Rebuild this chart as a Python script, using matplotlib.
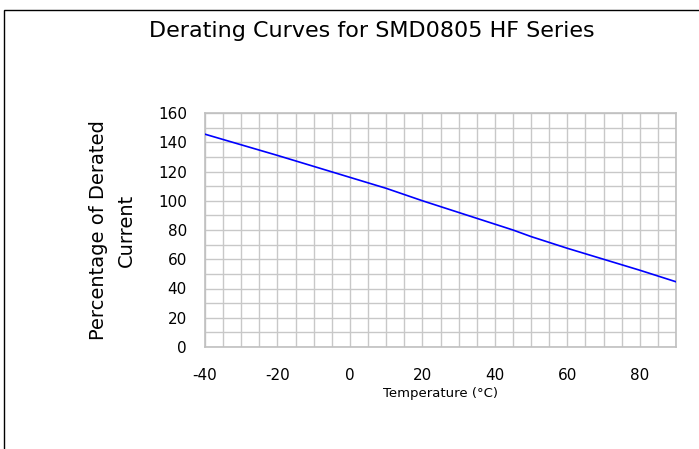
import matplotlib
matplotlib.use('Agg')
import matplotlib.pyplot as plt
from matplotlib.patches import Rectangle
from matplotlib.ticker import MultipleLocator

# derating curve
temps = [-40, -20, 0, 10, 20, 30, 40, 45, 50, 60, 70, 80, 90]
derated = [145.5, 131, 116, 108.5, 100, 92, 84, 80, 75.5, 67.5, 60, 52.5, 44.6]

title = 'Derating Curves for SMD0805 HF Series'
xlabel = 'Temperature (\u00b0C)'
ylabel = 'Percentage of Derated\nCurrent'

plt.rcParams['font.family'] = 'DejaVu Sans'
plt.rcParams['axes.unicode_minus'] = False

W, H = 699, 449
fig = plt.figure(figsize=(W / 100, H / 100), dpi=100)
ax = fig.add_axes([205 / W, 1 - 347 / H, 471 / W, 234 / H])

ax.plot(temps, derated, color='#0000FF', lw=1.2, zorder=3)

ax.set_xlim(-40, 90)
ax.set_ylim(0, 160)
ax.xaxis.set_major_locator(MultipleLocator(20))
ax.xaxis.set_minor_locator(MultipleLocator(5))
ax.yaxis.set_major_locator(MultipleLocator(20))
ax.yaxis.set_minor_locator(MultipleLocator(10))
ax.grid(which='both', color='#C8C8C8', lw=1.0)
ax.set_axisbelow(True)
for s in ax.spines.values():
    s.set_color('#C0C0C0')
    s.set_linewidth(1.2)
ax.tick_params(which='both', length=0)
ax.tick_params(axis='y', labelsize=11, pad=13)
ax.tick_params(axis='x', labelsize=11, pad=15)

ax.set_xlabel(xlabel, fontsize=9.5)
ax.xaxis.set_label_coords(0.5, -0.197)
ax.xaxis.label.set_va('center')
ax.set_ylabel(ylabel, fontsize=14, linespacing=1.6)
ax.yaxis.set_label_coords(-0.197, 0.5)
ax.yaxis.label.set_va('center')
ax.yaxis.label.set_ha('center')

fig.text(372 / W, 1 - 31 / H, title, fontsize=16, ha='center', va='center')

# outer chart frame (right/bottom edges run off the image)
fig.add_artist(Rectangle((4 / W, -0.1), 1.2, 1.1 - 10 / H, transform=fig.transFigure,
                         fill=False, edgecolor='black', lw=1.0))

fig.savefig('out.png', dpi=100)
